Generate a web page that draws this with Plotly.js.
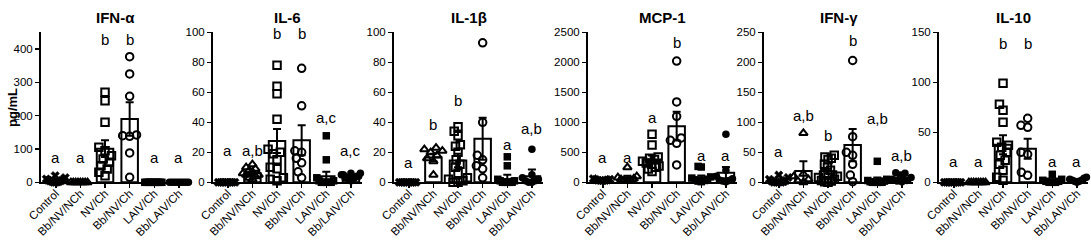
<!DOCTYPE html>
<html>
<head>
<meta charset="utf-8">
<script src="https://cdn.plot.ly/plotly-3.0.1.min.js"></script>
<style>
  html, body { margin: 0; padding: 0; background: #fff; }
  #chart { width: 1091px; height: 241px; }
</style>
</head>
<body>
<div id="chart"></div>
<script>
// ---------- data ----------
const categories = ['Control', 'Bb/NV/NCh', 'NV/Ch', 'Bb/NV/Ch', 'LAIV/Ch', 'Bb/LAIV/Ch'];
const panelTitles = ['IFN-α', 'IL-6', 'IL-1β', 'MCP-1', 'IFN-γ', 'IL-10'];
const yMax = [450, 100, 100, 2500, 250, 150];
const yStep = [100, 20, 20, 500, 50, 50];

// IFN-α
const ifnaPoints = [
  [0, 0, 1, 2, 3, 4, 5, 6, 8, 10, 14, 20],
  [0, 0, 0, 0, 0, 0, 0, 0],
  [270, 245, 180, 105, 95, 80, 70, 60, 50, 40, 30, 20],
  [377, 325, 258, 142, 140, 138, 88, 15],
  [0, 0, 0, 0, 0, 0, 0, 0, 0, 0],
  [0, 0, 0, 0, 0, 0, 0, 0, 0]
];
const ifnaMean = [5, 0, 101, 190, 0, 0];
const ifnaSem = [2, 0, 25, 50, 0, 0];
const ifnaLetters = ['a', 'a', 'b', 'b', 'a', 'a'];
const ifnaLetterY = [75, 75, 427, 427, 75, 75];

// IL-6
const il6Points = [
  [0, 0, 0, 0, 0, 0, 0, 0],
  [12, 10, 9, 8, 7, 6, 5, 5, 4, 3, 2],
  [78, 64, 59, 42, 22, 20, 19, 15, 10, 9, 3, 2, 1],
  [76, 51, 21, 20, 16, 13, 7, 3],
  [31, 15, 3, 1, 1, 0, 0, 0, 0, 0],
  [6, 6, 5, 5, 4, 4, 3, 3, 3, 2, 2, 1]
];
const il6Mean = [0, 6, 27.5, 28, 4, 3.5];
const il6Sem = [0, 1.2, 8, 10, 3, 0.5];
const il6Letters = ['a', 'a,b', 'b', 'b', 'a,c', 'a,c'];
const il6LetterY = [21, 21, 99, 99, 43, 21];

// IL-1β
const il1bPoints = [
  [0, 0, 0, 0, 0, 0, 0, 0],
  [23, 22, 21, 20, 18, 16, 14, 5],
  [37, 34, 31, 25, 24, 20, 15, 12, 10, 6, 3, 2, 1, 0, 0],
  [93, 40, 18, 15, 11, 9, 3],
  [17, 11, 2, 1, 1, 0, 0, 0, 0, 0],
  [22, 5, 3, 2, 1, 1, 0, 0]
];
const il1bMean = [0, 16.5, 14.5, 29, 2, 4];
const il1bSem = [0, 2.5, 4.5, 14, 3, 4.5];
const il1bLetters = ['a', 'b', 'b', 'b', 'a', 'a,b'];
const il1bLetterY = [13.5, 38.8, 54.5, 102, 25, 35.6];

// MCP-1
const mcp1Points = [
  [60, 50, 45, 40, 35, 30, 30, 25],
  [250, 100, 80, 60, 50, 40, 30, 20],
  [800, 620, 420, 400, 380, 350, 320, 300, 270, 250, 220, 180],
  [2020, 1340, 1100, 740, 700, 650, 290],
  [265, 255, 90, 70, 50, 40, 30, 20, 10],
  [800, 200, 100, 60, 40, 30, 20, 10]
];
const mcp1Mean = [40, 80, 380, 935, 85, 160];
const mcp1Sem = [5, 28, 65, 240, 30, 95];
const mcp1Letters = ['a', 'a', 'a', 'b', 'a', 'a'];
const mcp1LetterY = [418, 418, 1088, 2327, 446, 446];

// IFN-γ
const ifngPoints = [
  [12, 8, 5, 3, 2, 1, 0, 0, 0, 0],
  [82, 14, 10, 5, 2, 0],
  [45, 42, 40, 38, 30, 25, 20, 15, 12, 10, 8, 5, 3, 2, 1, 0],
  [203, 76, 50, 45, 30, 12, 1],
  [35, 5, 3, 2, 1, 0, 0, 0, 0, 0],
  [16, 15, 12, 8, 5, 3, 2, 1]
];
const ifngMean = [2.5, 19, 18.5, 62, 4.5, 7.5];
const ifngSem = [1.3, 16, 4, 27, 3.5, 2.3];
const ifngLetters = ['a', 'a,b', 'b', 'b', 'a,b', 'a,b'];
const ifngLetterY = [52, 111.6, 78, 236, 106, 45];

// IL-10
const il10Points = [
  [0, 0, 0, 0, 0, 0, 0, 0],
  [0, 0, 0, 0, 0, 0, 0, 0],
  [99, 78, 72, 60, 40, 37, 35, 30, 27, 22, 18, 12, 5, 2],
  [64, 57, 55, 30, 28, 10, 7],
  [8, 3, 2, 1, 1, 0, 0, 0],
  [5, 4, 3, 2, 2, 1, 1, 0]
];
const il10Mean = [0, 0, 37.5, 33.5, 2, 2];
const il10Sem = [0, 0, 9.5, 10, 1, 0.6];
const il10Letters = ['a', 'a', 'b', 'b', 'a', 'a'];
const il10LetterY = [20.8, 20.8, 139, 139, 20.8, 20.8];

const panels = [
  { pts: ifnaPoints, mean: ifnaMean, sem: ifnaSem, letters: ifnaLetters, ly: ifnaLetterY },
  { pts: il6Points, mean: il6Mean, sem: il6Sem, letters: il6Letters, ly: il6LetterY },
  { pts: il1bPoints, mean: il1bMean, sem: il1bSem, letters: il1bLetters, ly: il1bLetterY },
  { pts: mcp1Points, mean: mcp1Mean, sem: mcp1Sem, letters: mcp1Letters, ly: mcp1LetterY },
  { pts: ifngPoints, mean: ifngMean, sem: ifngSem, letters: ifngLetters, ly: ifngLetterY },
  { pts: il10Points, mean: il10Mean, sem: il10Sem, letters: il10Letters, ly: il10LetterY }
];

// ---------- layout geometry ----------
const W = 1091, H = 241;
const panelLeft = [41, 213, 394, 588, 764, 939];
const panelWidth = 149;
const plotTop = 32.3, plotBottom = 182.3;
const xRange = [-0.6, 5.45];
const symbols = ['x', 'triangle-up-open', 'square-open', 'circle-open', 'square', 'circle'];
const FONT = 'Arial, "Liberation Sans", Helvetica, sans-serif';

// deterministic beeswarm offsets (in category units)
function swarm(values, pxPerUnitY, pxPerCat) {
  const D = 7, maxPx = 9.5;
  const order = values.map((v, i) => i).sort((a, b) => values[a] - values[b]);
  const placed = [];
  const off = new Array(values.length).fill(0);
  order.forEach(i => {
    const y = values[i] * pxPerUnitY;
    const cands = [0];
    placed.forEach(p => {
      const dy = Math.abs(p.y - y);
      if (dy < D) {
        const dx = Math.sqrt(D * D - dy * dy);
        cands.push(p.x + dx, p.x - dx);
      }
    });
    cands.sort((a, b) => Math.abs(a) - Math.abs(b) || a - b);
    let chosen = 0;
    for (const c of cands) {
      const ok = placed.every(p => (p.x - c) ** 2 + (p.y - y) ** 2 >= D * D - 0.01);
      if (ok) { chosen = c; break; }
    }
    placed.push({ x: chosen, y: y });
    off[i] = chosen;
  });
  const m = Math.max(...off.map(Math.abs));
  const s = m > maxPx ? maxPx / m : 1;
  return off.map(o => o * s / pxPerCat);
}

const data = [];
const layout = {
  width: W, height: H,
  margin: { l: 0, r: 0, t: 0, b: 0 },
  paper_bgcolor: '#fff', plot_bgcolor: 'rgba(0,0,0,0)',
  showlegend: false,
  font: { family: FONT, color: '#000' },
  annotations: [],
  bargap: 0
};

const yd = [(H - plotBottom) / H, (H - plotTop) / H];
const pxPerCat = panelWidth / (xRange[1] - xRange[0]);

panels.forEach((p, k) => {
  const n = k + 1;
  const xa = 'x' + (n === 1 ? '' : n);
  const ya = 'y' + (n === 1 ? '' : n);
  const xd = [panelLeft[k] / W, (panelLeft[k] + panelWidth) / W];
  const pxPerUnitY = (plotBottom - plotTop) / yMax[k];

  layout['xaxis' + (n === 1 ? '' : n)] = {
    domain: xd, anchor: ya, range: xRange,
    tickvals: categories.map((c, i) => i), ticktext: categories,
    tickangle: -45, ticklabelstandoff: -6,
    ticks: 'outside', ticklen: 4, tickwidth: 1.5, tickcolor: '#000',
    showline: true, linewidth: 2, linecolor: '#000',
    showgrid: false, zeroline: false, fixedrange: true, automargin: false,
    tickfont: { family: FONT, size: 11.5, color: '#000' }
  };
  layout['yaxis' + (n === 1 ? '' : n)] = {
    domain: yd, anchor: xa, range: [0, yMax[k]],
    tickmode: 'linear', tick0: 0, dtick: yStep[k],
    ticks: 'outside', ticklen: 4, tickwidth: 1.5, tickcolor: '#000',
    showline: true, linewidth: 2, linecolor: '#000',
    showgrid: false, zeroline: false, fixedrange: true, automargin: false,
    tickfont: { family: FONT, size: 11.5, color: '#000' }
  };

  // bars with SEM
  data.push({
    type: 'bar', xaxis: xa, yaxis: ya,
    x: categories.map((c, i) => i), y: p.mean, width: 0.67,
    marker: { color: '#fff', line: { color: '#000', width: 2 } },
    error_y: { type: 'data', array: p.sem, visible: true, color: '#000', thickness: 2, width: 4 },
    hoverinfo: 'skip'
  });

  // scatter points per group
  p.pts.forEach((vals, i) => {
    const off = swarm(vals, pxPerUnitY, pxPerCat);
    const open = symbols[i].indexOf('open') >= 0;
    data.push({
      type: 'scatter', mode: 'markers', xaxis: xa, yaxis: ya,
      x: vals.map((v, j) => i + off[j]), y: vals,
      cliponaxis: false,
      marker: {
        symbol: symbols[i],
        size: 7.5,
        color: '#000',
        line: { color: '#000', width: open ? 2 : (symbols[i] === 'x' ? 0.5 : 0) }
      },
      hoverinfo: 'skip'
    });
  });

  // significance letters
  p.letters.forEach((t, i) => {
    layout.annotations.push({
      xref: xa, yref: ya, x: i, y: p.ly[i], text: t, showarrow: false,
      font: { family: FONT, size: 15, color: '#000' }, xanchor: 'center', yanchor: 'middle'
    });
  });

  // panel title
  layout.annotations.push({
    xref: 'paper', yref: 'paper', x: (xd[0] + xd[1]) / 2, y: (H - 17.5) / H,
    text: '<b>' + panelTitles[k] + '</b>', showarrow: false,
    font: { family: FONT, size: 15, color: '#000' }, xanchor: 'center', yanchor: 'middle'
  });
});

// y-axis unit label of the first panel
layout.annotations.push({
  xref: 'paper', yref: 'paper', x: 13 / W, y: (H - 108) / H,
  text: '<b>pg/mL</b>', textangle: -90, showarrow: false,
  font: { family: FONT, size: 13, color: '#000' }, xanchor: 'center', yanchor: 'middle'
});

Plotly.newPlot('chart', data, layout, { staticPlot: true, displayModeBar: false });
</script>
</body>
</html>
